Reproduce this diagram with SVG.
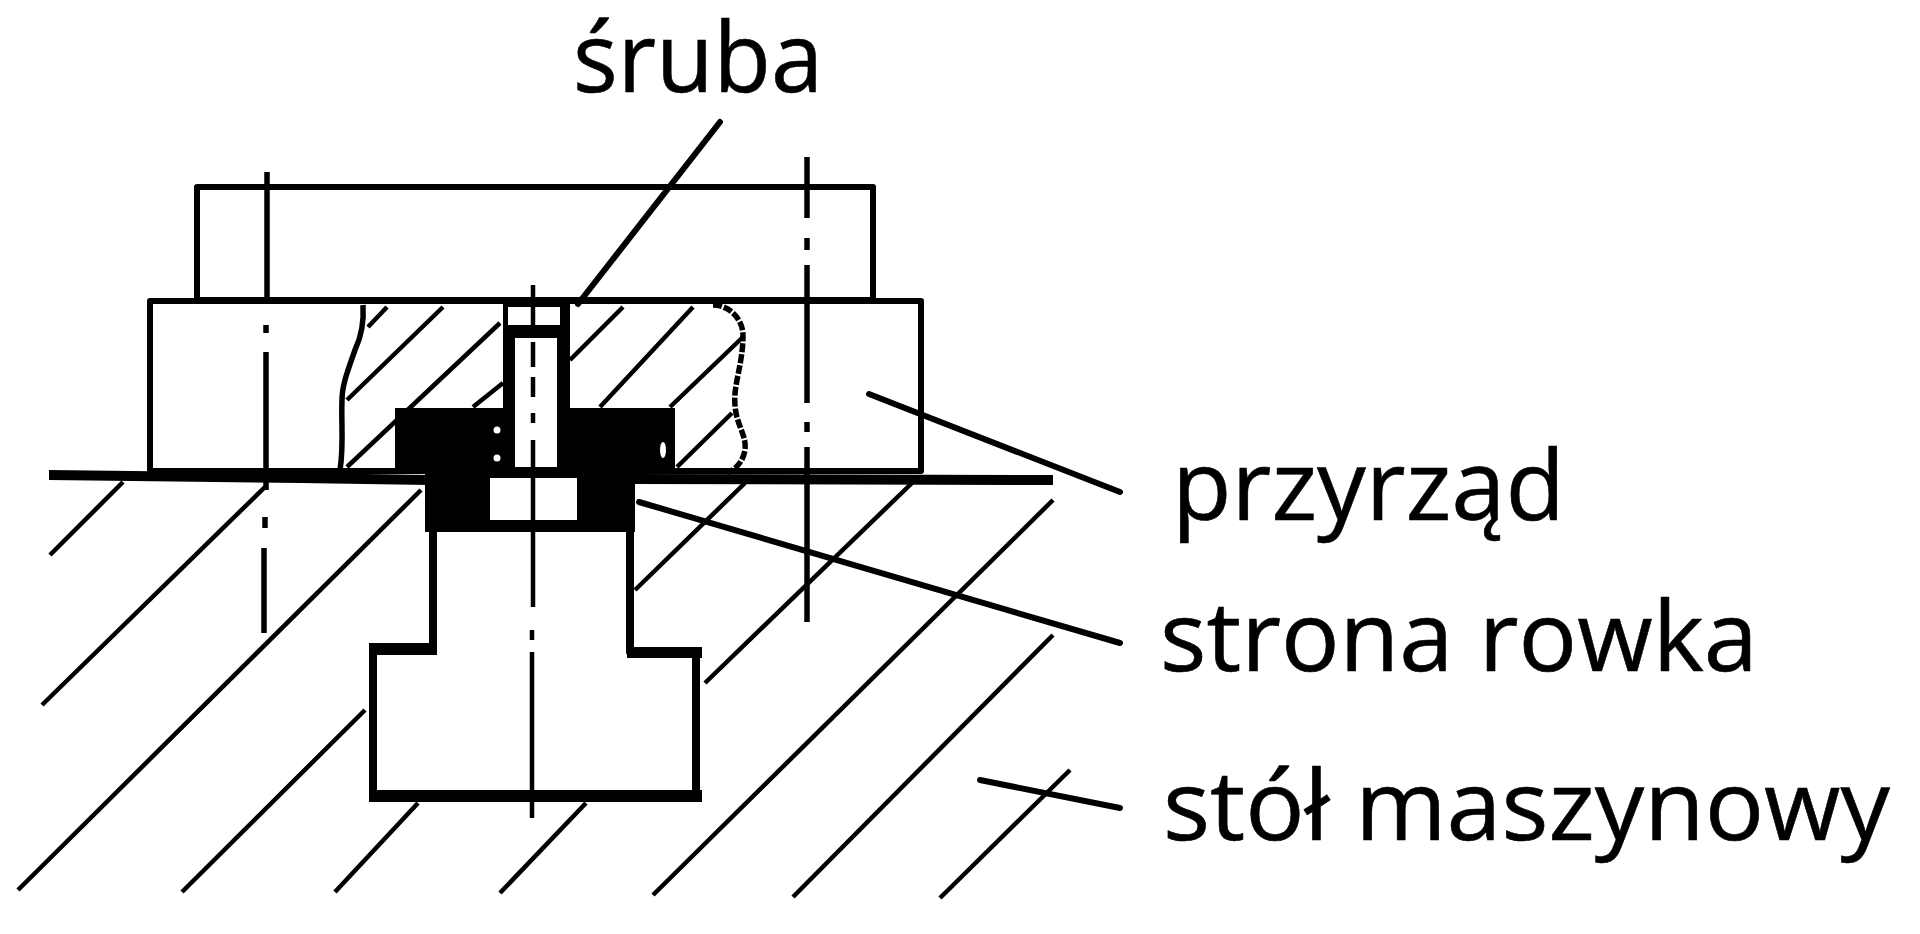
<svg xmlns="http://www.w3.org/2000/svg" width="1920" height="934" viewBox="0 0 1920 934">
<style>
.l{fill:none;stroke:#000;stroke-width:6;stroke-linecap:round;stroke-linejoin:round}
.h{fill:none;stroke:#000;stroke-width:4.5}
.b{fill:none;stroke:#000;stroke-width:5.5}
.t{font-family:"Open Sans","Liberation Sans",sans-serif;font-size:97px;fill:#000;stroke:#000;stroke-width:.6}
.c{fill:none;stroke:#000;stroke-width:5.5}
</style>
<rect width="1920" height="934" fill="#fff"/>
<g id="hatch-table" class="h">
<path d="M123 482L50 555M265 487L42 705M421 490L18 890M365 710L182 892M418 803L335 892M586 803L500 893M705 683L912 483M1053 500L653 895M1053 635L793 897M1070 770L940 898M635 590L745 483"/>
</g>
<g id="hatch-fixture" class="h">
<path d="M387 307L368 327M443 307L347 400M500 323L347 467M503 383L473 407M623 307L570 360M693 307L600 407M743 337L670 407M732 413L677 467"/>
</g>
<g id="fixture">
<rect class="l" x="197" y="187" width="676" height="113"/>
<rect class="l" x="150" y="301" width="771" height="170"/>
<path class="b" d="M363 305C364 320 362 335 355 350C348 370 342 385 342 400C341 425 344 445 340 470"/>
<path class="b" stroke-dasharray="9 2" d="M713 305C730 305 743 320 743 335C743 365 733 385 735 405C736 425 747 435 745 450C743 462 735 470 727 473"/>
</g>
<g id="table">
<path d="M49 470L300 473L430 475L430 485L300 483L49 480Z" fill="#000"/>
<path d="M630 474L1053 475L1053 485L630 484Z" fill="#000"/>
<path class="l" style="stroke-width:8" d="M433 532V648H373V796H696V652H630V532"/>
<path d="M369 790H702V802H369Z" fill="#000"/>
<path d="M369 643H437V655H369ZM627 647H702V658H627Z" fill="#000"/>
</g>
<g id="bolt">
<path fill-rule="evenodd" d="M395 408H503V300H570V408H675V473H635V532H425V473H395ZM515 338V467H557V338ZM490 478V520H577V478Z" fill="#000"/>
<rect x="508" y="307" width="52" height="18" fill="#fff"/>
<circle cx="497" cy="430" r="3.5" fill="#fff"/>
<circle cx="497" cy="458" r="3.5" fill="#fff"/>
<ellipse cx="663" cy="450" rx="3" ry="8" fill="#fff"/>
</g>
<g id="centre-lines" class="c">
<path d="M267 172V300M266 325V333M266 352V490M265 517V528M264 548V633"/>
<path style="stroke-width:4.5" d="M533 285V336M533 342V367M533 377V397M533 413V423M533 440V467M533 477V607M532 630V640M532 652V818"/>
<path d="M807 157V218M807 238V250M807 265V403M807 422V432M807 447V622"/>
</g>
<g id="leaders" class="l">
<path d="M720 122L578 304"/>
<path d="M869 394L1120 492"/>
<path d="M639 502L1120 643"/>
<path d="M980 780L1120 808"/>
</g>
<g id="labels" class="t">
<text x="573" y="92" textLength="250" lengthAdjust="spacingAndGlyphs">śruba</text>
<text x="1172" y="520" textLength="393" lengthAdjust="spacingAndGlyphs">przyrząd</text>
<text x="1160" y="671" textLength="598" lengthAdjust="spacingAndGlyphs">strona rowka</text>
<text x="1163" y="840" textLength="727" lengthAdjust="spacingAndGlyphs">stół maszynowy</text>
</g>
</svg>
